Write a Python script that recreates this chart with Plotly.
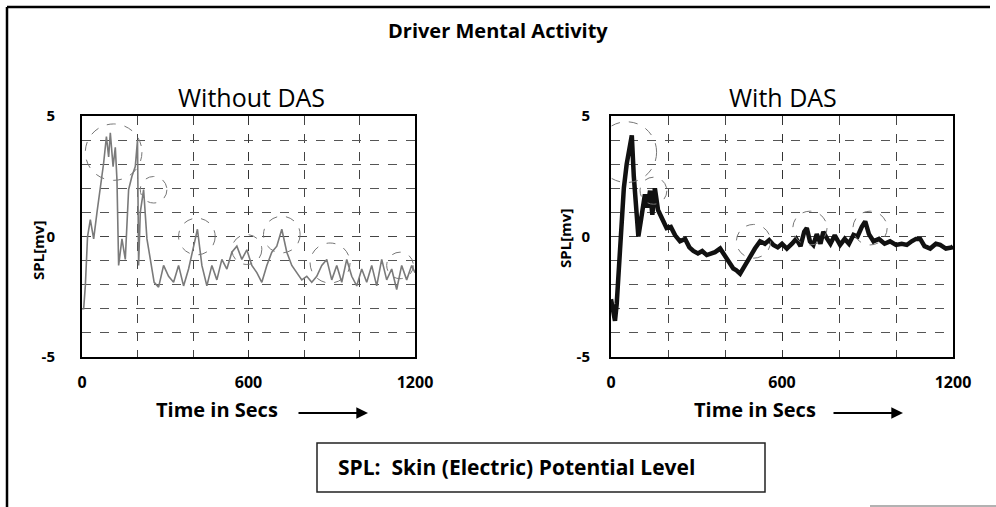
import plotly.graph_objects as go

# ---------------- data ----------------
left_t = [0, 6, 12, 20, 30, 42, 54, 66, 78, 88, 96, 102, 112, 120, 126, 132, 144, 156, 168, 180,
          192, 200, 204, 210, 222, 234, 246, 260, 276, 294, 312, 330, 348, 366, 384, 402, 416, 432,
          450, 468, 486, 504, 522, 540, 558, 576, 594, 612, 630, 648, 666, 684, 702, 720, 738, 756,
          774, 792, 810, 828, 846, 864, 882, 900, 918, 936, 954, 972, 990, 1008, 1026, 1044, 1062,
          1080, 1098, 1116, 1134, 1152, 1170, 1188, 1200]
left_v = [-3.0, -3.0, -2.05, 0.0, 0.7, -0.1, 1.0, 1.95, 3.05, 4.15, 3.3, 4.3, 2.9, 3.7, 2.35, -1.2,
          -0.1, -0.95, 1.95, 2.5, 2.9, 4.0, -1.2, 1.0, 1.95, -0.1, -0.95, -1.9, -2.1, -1.2, -1.65,
          -1.9, -1.2, -2.05, -1.35, -0.4, 0.3, -1.2, -2.05, -1.2, -1.8, -0.95, -1.35, -0.65, -0.4,
          -0.95, -0.55, -1.2, -1.5, -1.9, -1.2, -0.65, -0.4, 0.3, -0.65, -1.2, -1.5, -1.8, -1.65,
          -1.9, -1.65, -1.2, -0.95, -1.8, -1.2, -1.9, -0.95, -1.65, -2.05, -1.35, -1.9, -1.2, -2.05,
          -0.95, -1.8, -1.35, -2.2, -1.2, -1.8, -1.2, -1.5]

right_t = [0, 8, 14, 20, 28, 36, 45, 55, 65, 73, 80, 88, 96, 104, 112, 119, 128, 137, 145, 154, 165,
           180, 195, 210, 225, 242, 260, 275, 289, 305, 320, 336, 350, 365, 383, 400, 415, 429, 440,
           453, 465, 476, 490, 505, 523, 540, 555, 570, 585, 600, 617, 635, 650, 665, 678, 687, 698,
           710, 722, 735, 745, 757, 770, 785, 804, 820, 835, 851, 865, 880, 892, 905, 921, 940, 960,
           979, 1000, 1020, 1038, 1055, 1070, 1085, 1100, 1120, 1140, 1155, 1175, 1196, 1200]
right_v = [-2.6, -3.2, -3.5, -2.8, -1.2, 0.5, 2.0, 3.0, 3.6, 4.2, 2.5, 1.0, 0.0, 0.6, 1.4, 1.75, 1.2,
           1.9, 0.9, 2.0, 1.1, 0.7, 0.35, 0.4, 0.05, -0.2, -0.1, -0.45, -0.6, -0.7, -0.6, -0.77, -0.7,
           -0.65, -0.5, -0.8, -1.1, -1.33, -1.4, -1.54, -1.3, -1.05, -0.8, -0.5, -0.2, -0.3, -0.15,
           -0.35, -0.45, -0.3, -0.5, -0.3, -0.1, -0.4, 0.2, 0.35, -0.2, -0.35, 0.1, -0.3, 0.2, -0.07,
           -0.3, 0.05, -0.35, -0.1, -0.3, 0.07, 0.0, 0.4, 0.63, 0.1, -0.2, -0.1, -0.3, -0.2, -0.35,
           -0.3, -0.35, -0.2, -0.1, -0.1, -0.4, -0.5, -0.3, -0.35, -0.5, -0.45, -0.4]

# highlight circles: (center time, center value, radius in time, radius in value)
left_circles = [(114, 3.5, 102, 1.17), (258, 1.94, 48, 0.55), (414, 0.0, 66, 0.76),
                (594, -0.54, 54, 0.62), (720, 0.08, 66, 0.76), (894, -1.1, 72, 0.83),
                (1146, -1.2, 48, 0.55)]
right_circles = [(55, 3.5, 105, 1.26), (149, 1.9, 47, 0.56), (500, -0.2, 60, 0.7),
                 (698, 0.35, 60, 0.7), (909, 0.35, 60, 0.7)]

x_tick_vals = [0, 600, 1200]
x_tick_text = ["0", "600", "1200"]
y_tick_vals = [-5, 0, 5]
y_tick_text = ["-5", "0", "5"]

title_text = "Driver Mental Activity"
sub_titles = ["Without DAS", "With DAS"]
y_title = "SPL[mv]"
x_title = "Time in Secs"
legend_note = "SPL:  Skin (Electric) Potential Level"

# ---------------- figure ----------------
W, H = 996, 507
FONT = "'Open Sans', Lato, sans-serif"
fig = go.Figure()

fig.add_trace(go.Scatter(x=left_t, y=left_v, mode="lines", xaxis="x", yaxis="y",
                         line=dict(color="#7a7a7a", width=1.6), showlegend=False))
fig.add_trace(go.Scatter(x=right_t, y=right_v, mode="lines", xaxis="x2", yaxis="y2",
                         line=dict(color="#111111", width=4.5), showlegend=False))

yd = [1 - 357 / H, 1 - 116 / H]
left_dom = [82 / W, 415 / W]
right_dom = [611 / W, 953 / W]

def xaxis_cfg(dom, anchor):
    return dict(domain=dom, anchor=anchor, range=[0, 1200], tickvals=x_tick_vals,
                ticktext=x_tick_text, showgrid=True, gridcolor="#333", griddash="dash",
                gridwidth=1, showline=True, linecolor="black", linewidth=2, mirror=True,
                zeroline=False, ticks="", ticklabelstandoff=10, automargin=False,
                tickfont=dict(family=FONT, size=16, color="black", weight="bold"),
                minor=dict(dtick=200, showgrid=True, gridcolor="#444", griddash="dash", gridwidth=1))

def yaxis_cfg(dom, anchor, standoff):
    return dict(domain=dom, anchor=anchor, range=[-5, 5], tickvals=y_tick_vals,
                ticktext=y_tick_text, showgrid=True, gridcolor="#444", griddash="dash",
                gridwidth=1, showline=True, linecolor="black", linewidth=2, mirror=True,
                zeroline=False, ticks="", ticklabelstandoff=standoff, automargin=False,
                tickfont=dict(family=FONT, size=15, color="black", weight="bold"),
                minor=dict(dtick=1, showgrid=True, gridcolor="#555", griddash="dash", gridwidth=1))

fig.update_layout(
    width=W, height=H, margin=dict(l=0, r=0, t=0, b=0, pad=0, autoexpand=False),
    paper_bgcolor="white", plot_bgcolor="white",
    xaxis=xaxis_cfg(left_dom, "y"), yaxis=yaxis_cfg(yd, "x", 22),
    xaxis2=xaxis_cfg(right_dom, "y2"), yaxis2=yaxis_cfg(yd, "x2", 16),
)

shapes = []
# outer frame (left and top edges)
shapes.append(dict(type="line", xref="paper", yref="paper", x0=7 / W, x1=7 / W, y0=0,
                   y1=1 - 7 / H, line=dict(color="black", width=2.5)))
shapes.append(dict(type="line", xref="paper", yref="paper", x0=7 / W, x1=990 / W, y0=1 - 7 / H,
                   y1=1 - 7 / H, line=dict(color="black", width=2.5)))
shapes.append(dict(type="line", xref="paper", yref="paper", x0=870 / W, x1=1, y0=1 - 506 / H,
                   y1=1 - 506 / H, line=dict(color="#999", width=1.5)))
# note box
shapes.append(dict(type="rect", xref="paper", yref="paper", x0=317 / W, x1=765 / W,
                   y0=1 - 492 / H, y1=1 - 443 / H, line=dict(color="#222", width=1.5)))
for (xr, yr, circles) in (("x", "y", left_circles), ("x2", "y2", right_circles)):
    for (ct, cv, rt, rv) in circles:
        shapes.append(dict(type="circle", xref=xr, yref=yr, x0=ct - rt, x1=ct + rt,
                           y0=cv - rv, y1=cv + rv, line=dict(color="#777", width=1, dash="dash")))
fig.update_layout(shapes=shapes)

def txt(text, x, y, size, bold=False, angle=0, xanchor="center"):
    return dict(text=text, xref="paper", yref="paper", x=x / W, y=1 - y / H,
                xanchor=xanchor, yanchor="middle", textangle=angle, showarrow=False,
                font=dict(family=FONT, size=size, color="black",
                          weight="bold" if bold else "normal"))

ann = []
ann.append(txt(title_text, 498, 31, 20, bold=True))
ann.append(txt(sub_titles[0], 252, 97, 25))
ann.append(txt(sub_titles[1], 783, 97, 25))
ann.append(txt(y_title, 38, 251, 15, bold=True, angle=-90))
ann.append(txt(y_title, 565, 239, 15, bold=True, angle=-90))
for (xc, a0, a1) in ((217, 297, 368), (755, 832, 903)):
    ann.append(txt(x_title, xc, 409, 20, bold=True))
    ann.append(dict(text="", xref="paper", yref="paper", x=a1 / W, y=1 - 413 / H,
                    ax=a0 - a1, ay=0, axref="pixel", ayref="pixel",
                    showarrow=True, arrowhead=2, arrowsize=1.3, arrowwidth=1.8, arrowcolor="black"))
ann.append(txt(legend_note, 336, 467, 21, bold=True, xanchor="left"))
fig.update_layout(annotations=ann)

fig.write_html("out.html", config={"displayModeBar": False},
               post_script="document.body.style.margin='0px';document.body.style.overflow='hidden';")
